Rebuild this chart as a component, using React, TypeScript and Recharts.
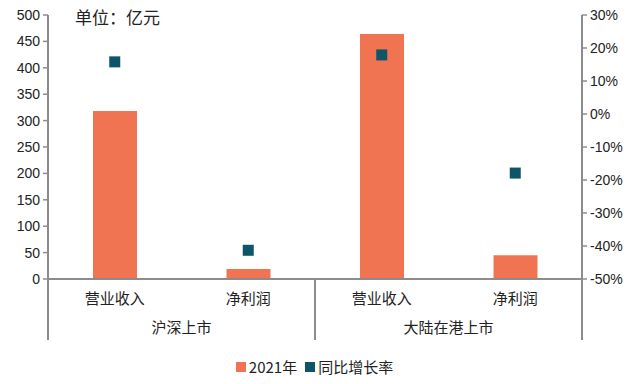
import React from 'react';
import {ComposedChart, Bar, Scatter, XAxis, YAxis, Legend} from 'recharts';

const categories = ['营业收入', '净利润', '营业收入', '净利润'];
const groups = ['沪深上市', '沪深上市', '大陆在港上市', '大陆在港上市'];
const amount2021 = [318, 19, 464, 45];
const yoyGrowth = [15.8, -41.3, 17.9, -17.9];
const leftTicks = [0, 50, 100, 150, 200, 250, 300, 350, 400, 450, 500];
const rightTicks = [-50, -40, -30, -20, -10, 0, 10, 20, 30];

const data = categories.map((name, i) => ({
  key: i,
  name,
  group: groups[i],
  amount: amount2021[i],
  growth: yoyGrowth[i],
}));

const AXIS = '#8c8c8c';
const BAR = '#F07452';
const DOT = '#0E5567';
const CN = '"Noto Sans CJK SC", sans-serif';
const NUM = '"Liberation Sans", Arial, sans-serif';

const CatTick = (props: any) => {
  const {x, y, payload, index} = props;
  const half = payload.offset ?? 0;
  const d = data[index];
  const last = index === data.length - 1;
  const firstOfGroup = index === 0 || data[index - 1].group !== d.group;
  return (
    <g>
      <text x={x} y={y + 25} textAnchor="middle" fontSize={15} fill="#222" fontFamily={CN}>
        {d.name}
      </text>
      {firstOfGroup && (
        <>
          <line x1={x - half} x2={x - half} y1={y} y2={y + 61} stroke={AXIS} strokeWidth={2} />
          <text x={x + half} y={y + 54} textAnchor="middle" fontSize={15} fill="#222" fontFamily={CN}>
            {d.group}
          </text>
        </>
      )}
      {last && <line x1={x + half} x2={x + half} y1={y} y2={y + 61} stroke={AXIS} strokeWidth={2} />}
    </g>
  );
};

const SquareDot = (props: any) => {
  const {cx, cy} = props;
  return <rect x={cx - 5.5} y={cy - 5.5} width={11} height={11} fill={DOT} />;
};

const LegendBox = () => (
  <div style={{display: 'flex', justifyContent: 'center', alignItems: 'center', fontFamily: CN, fontSize: 15, color: '#222'}}>
    <span style={{width: 10, height: 10, background: BAR, display: 'inline-block', marginRight: 3}} />
    <span style={{marginRight: 8}}>2021年</span>
    <span style={{width: 10, height: 10, background: DOT, display: 'inline-block', marginRight: 3}} />
    <span>同比增长率</span>
  </div>
);

export default function App() {
  return (
    <div style={{position: 'absolute', left: 0, top: 0, background: '#fff'}}>
      <style>{'body{margin:0}'}</style>
      <ComposedChart width={629} height={384} data={data} margin={{top: 15, right: 0, left: 0, bottom: 43}}>
        <XAxis
          dataKey="key"
          interval={0}
          height={62}
          tickSize={0}
          tickMargin={0}
          tickLine={false}
          axisLine={{stroke: AXIS, strokeWidth: 2}}
          tick={<CatTick />}
        />
        <YAxis
          yAxisId="left"
          width={48}
          domain={[0, 500]}
          ticks={leftTicks}
          interval={0}
          tickSize={5}
          tickMargin={3}
          axisLine={{stroke: AXIS, strokeWidth: 2}}
          tickLine={{stroke: AXIS, strokeWidth: 1.5}}
          tick={{fill: '#222', fontSize: 14, fontFamily: NUM}}
        />
        <YAxis
          yAxisId="right"
          orientation="right"
          width={47}
          domain={[-50, 30]}
          ticks={rightTicks}
          interval={0}
          tickSize={5}
          tickMargin={3}
          tickFormatter={(v: number) => `${v}%`}
          axisLine={{stroke: AXIS, strokeWidth: 2}}
          tickLine={{stroke: AXIS, strokeWidth: 1.5}}
          tick={{fill: '#222', fontSize: 14, fontFamily: NUM}}
        />
        <Bar yAxisId="left" dataKey="amount" name="2021年" fill={BAR} barSize={44} isAnimationActive={false} />
        <Scatter yAxisId="right" dataKey="growth" name="同比增长率" fill={DOT} shape={<SquareDot />} isAnimationActive={false} />
        <Legend
          verticalAlign="middle"
          align="center"
          content={<LegendBox />}
          wrapperStyle={{top: 356, left: 0, width: 629}}
        />
      </ComposedChart>
      <div style={{position: 'absolute', left: 75, top: 4, fontFamily: CN, fontSize: 17, color: '#222'}}>单位：亿元</div>
    </div>
  );
}
